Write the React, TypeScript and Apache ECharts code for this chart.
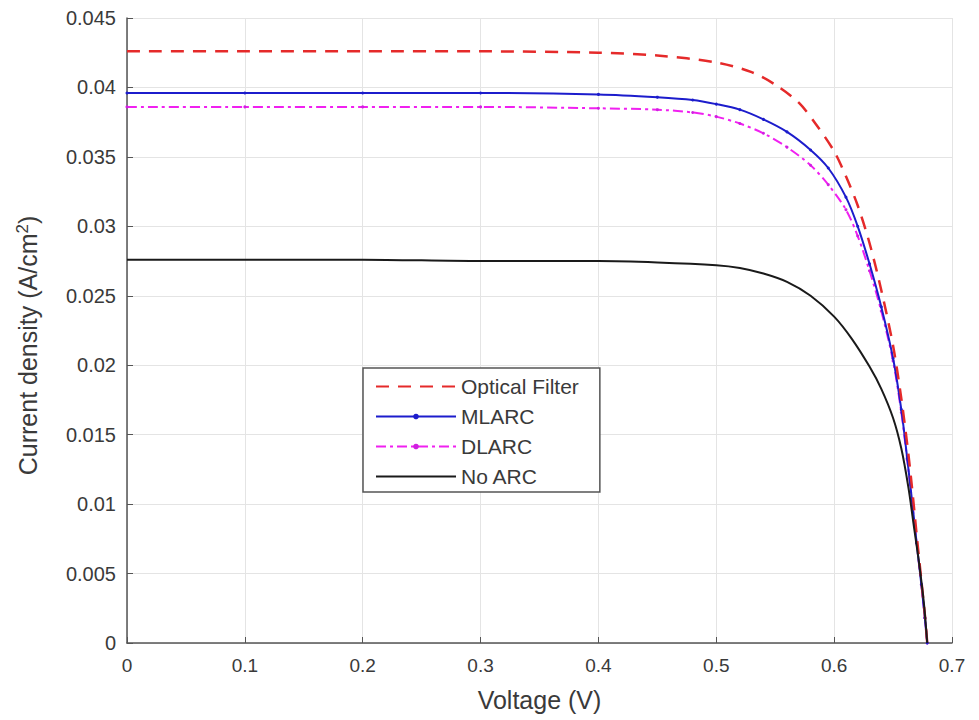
import React, { useEffect, useRef } from "react";
import * as echarts from "echarts";

const opticalV = [0, 0.1, 0.2, 0.3, 0.4, 0.45, 0.5, 0.53, 0.55, 0.57, 0.585, 0.6, 0.61, 0.62, 0.63, 0.64, 0.65, 0.657, 0.663, 0.667, 0.67, 0.674, 0.677, 0.679];
const opticalJ = [0.0426, 0.0426, 0.0426, 0.0426, 0.0425, 0.0423, 0.0418, 0.0411, 0.0402, 0.0389, 0.0373, 0.0354, 0.0336, 0.0315, 0.0288, 0.0254, 0.0214, 0.0176, 0.0136, 0.0104, 0.0078, 0.0045, 0.002, 0.0];

const mlarcV = [0, 0.1, 0.2, 0.3, 0.4, 0.45, 0.48, 0.5, 0.52, 0.54, 0.56, 0.58, 0.595, 0.61, 0.62, 0.63, 0.64, 0.65, 0.657, 0.662, 0.666, 0.67, 0.674, 0.677, 0.679];
const mlarcJ = [0.0396, 0.0396, 0.0396, 0.0396, 0.0395, 0.0393, 0.0391, 0.0388, 0.0384, 0.0377, 0.0368, 0.0355, 0.0342, 0.0321, 0.03, 0.0273, 0.0242, 0.0205, 0.0168, 0.0133, 0.0103, 0.0072, 0.0042, 0.0018, 0.0];

const dlarcV = [0, 0.1, 0.2, 0.3, 0.4, 0.45, 0.48, 0.5, 0.52, 0.54, 0.56, 0.58, 0.595, 0.61, 0.62, 0.63, 0.64, 0.65, 0.657, 0.662, 0.666, 0.67, 0.674, 0.677, 0.679];
const dlarcJ = [0.0386, 0.0386, 0.0386, 0.0386, 0.0385, 0.0384, 0.0382, 0.0379, 0.0374, 0.0367, 0.0357, 0.0344, 0.033, 0.0312, 0.0293, 0.0268, 0.0239, 0.0203, 0.0166, 0.0132, 0.0103, 0.0072, 0.0042, 0.0018, 0.0];

const noArcV = [0, 0.1, 0.2, 0.3, 0.4, 0.45, 0.5, 0.52, 0.54, 0.56, 0.58, 0.6, 0.615, 0.63, 0.64, 0.65, 0.657, 0.663, 0.668, 0.672, 0.676, 0.679];
const noArcJ = [0.0276, 0.0276, 0.0276, 0.0275, 0.0275, 0.0274, 0.0272, 0.027, 0.0266, 0.026, 0.025, 0.0235, 0.0219, 0.0199, 0.0183, 0.0162, 0.014, 0.0112, 0.0082, 0.0058, 0.003, 0.0];

const zip = (xs: number[], ys: number[]) => xs.map((x, i) => [x, ys[i]]);

export default function App() {
  const ref = useRef<HTMLDivElement>(null);
  useEffect(() => {
    if (!ref.current) return;
    const chart = echarts.init(ref.current, null, { renderer: "svg" });
    const font = "Liberation Sans, Arial, sans-serif";
    const txt = "#3a3a3a";
    chart.setOption({
      animation: false,
      backgroundColor: "#ffffff",
      textStyle: { fontFamily: font },
      grid: { left: 127, right: 27, top: 18, bottom: 77 },
      legend: {
        left: 363,
        top: 368,
        orient: "vertical",
        itemWidth: 80,
        itemHeight: 7,
        itemGap: 9,
        padding: [8, 21, 5, 12],
        borderColor: "#555",
        borderWidth: 1.5,
        backgroundColor: "#fff",
        textStyle: { fontSize: 21, color: txt, fontFamily: font },
        data: [
          { name: "Optical Filter", itemStyle: { opacity: 0 } },
          { name: "MLARC" },
          { name: "DLARC" },
          { name: "No ARC", itemStyle: { opacity: 0 } },
        ],
      },
      xAxis: {
        type: "value",
        min: 0,
        max: 0.7,
        interval: 0.1,
        name: "Voltage (V)",
        nameLocation: "middle",
        nameGap: 44,
        nameTextStyle: { fontSize: 25, color: txt, fontFamily: font },
        axisLine: { lineStyle: { color: "#555", width: 1.5 } },
        axisTick: { inside: true, length: 6, lineStyle: { color: "#555" } },
        axisLabel: { fontSize: 19, color: txt, margin: 13, formatter: (v: number) => String(+v.toFixed(1)) },
        splitLine: { show: true, lineStyle: { color: "#e4e4e4", width: 1 } },
      },
      yAxis: {
        type: "value",
        min: 0,
        max: 0.045,
        interval: 0.005,
        name: "Current density (A/cm{sup|2})",
        nameLocation: "middle",
        nameGap: 85,
        nameTextStyle: {
          fontSize: 25,
          color: txt,
          fontFamily: font,
          padding: [0, 30, 0, 0],
          rich: {
            sup: { fontSize: 17, color: txt, fontFamily: font, padding: [0, 0, 11, 0] },
          },
        },
        axisLine: { show: true, lineStyle: { color: "#555", width: 1.5 } },
        axisTick: { show: true, inside: true, length: 6, lineStyle: { color: "#555" } },
        axisLabel: { fontSize: 20, color: txt, margin: 11, formatter: (v: number) => String(+v.toFixed(3)) },
        splitLine: { show: true, lineStyle: { color: "#e4e4e4", width: 1 } },
      },
      series: [
        {
          name: "Optical Filter",
          type: "line",
          data: zip(opticalV, opticalJ),
          smooth: 0.3,
          showSymbol: false,
          symbol: "none",
          color: "#e52a2a",
          lineStyle: { color: "#e52a2a", width: 2.5, type: [13, 9] },
          z: 4,
        },
        {
          name: "MLARC",
          type: "line",
          data: zip(mlarcV, mlarcJ),
          smooth: 0.3,
          symbol: "circle",
          symbolSize: 3,
          showSymbol: true,
          color: "#1c1ccc",
          itemStyle: { color: "#1c1ccc" },
          lineStyle: { color: "#1c1ccc", width: 2 },
          z: 3,
        },
        {
          name: "DLARC",
          type: "line",
          data: zip(dlarcV, dlarcJ),
          smooth: 0.3,
          symbol: "circle",
          symbolSize: 3,
          showSymbol: true,
          color: "#f020f0",
          itemStyle: { color: "#d020e0" },
          lineStyle: { color: "#f020f0", width: 2, type: [10, 4, 3, 4] },
          z: 2,
        },
        {
          name: "No ARC",
          type: "line",
          data: zip(noArcV, noArcJ),
          smooth: 0.3,
          showSymbol: false,
          symbol: "none",
          color: "#1a1a1a",
          lineStyle: { color: "#1a1a1a", width: 2 },
          z: 5,
        },
      ],
    });
    return () => chart.dispose();
  }, []);
  return <div ref={ref} style={{ width: 979, height: 720, position: "absolute", left: 0, top: 0 }} />;
}
